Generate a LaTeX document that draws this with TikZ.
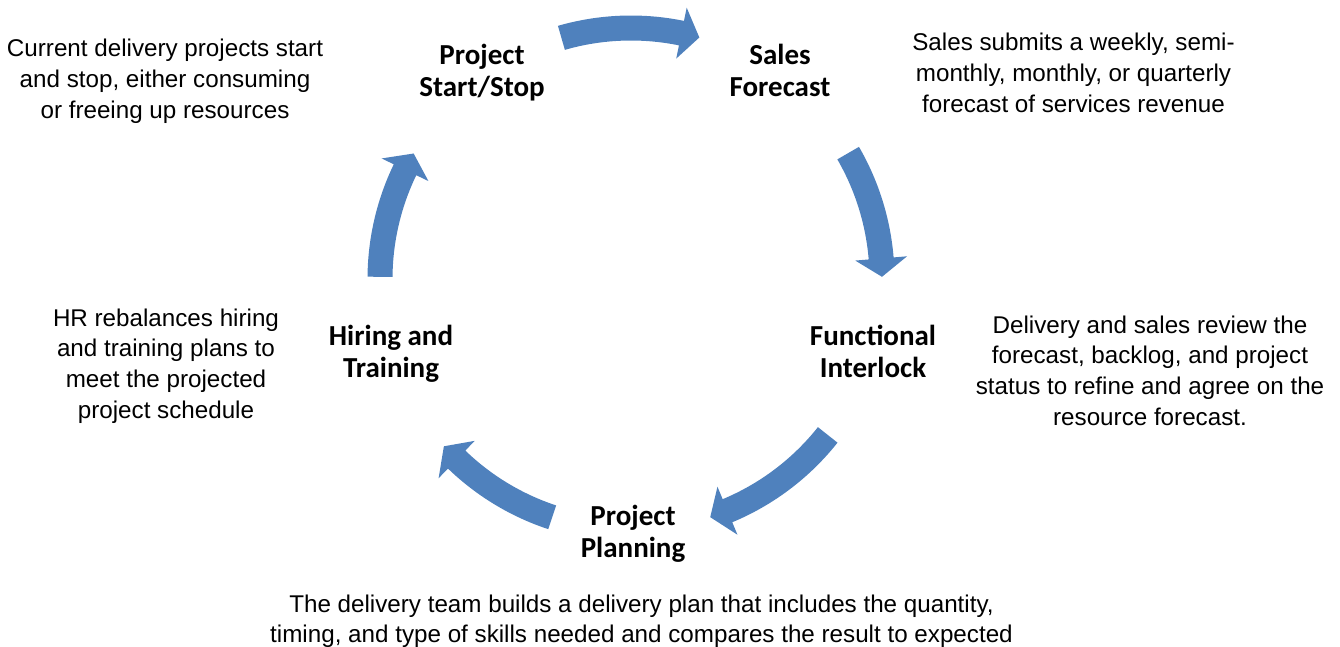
\documentclass[tikz,border=0pt]{standalone}
\usepackage{fontspec}
\setmainfont{Liberation Sans}
\newfontfamily\labelfont{Carlito}

\definecolor{cycleblue}{RGB}{79,129,189}

% curved block arrow on the cycle ring: #1 = tail angle, #2 = tip angle (clockwise)
\newcommand\cycarrow[2]{%
  \pgfmathsetmacro\headang{#2+4.2}%
  \fill[cycleblue] (#1:263.5) arc[start angle=#1, end angle=\headang, radius=263.5]
    -- (\headang:277) -- (#2:251) -- (\headang:225)
    -- (\headang:238.5) arc[start angle=\headang, end angle=#1, radius=238.5] -- cycle;}

% multi-line nodes are placed by the baseline of their last line
\tikzset{
  desc/.style={align=center, inner sep=0pt, anchor=base,
    font=\fontsize{24.2}{30.8}\selectfont},
  steplabel/.style={align=center, inner sep=0pt, anchor=base,
    font=\labelfont\bfseries\fontsize{29}{32}\selectfont}
}

\begin{document}
\begin{tikzpicture}[x=1pt, y=1pt]
\useasboundingbox (0,0) rectangle (1340,646);

% ring of arrows around the cycle centre
\begin{scope}[shift={(631,367)}]
  \cycarrow{106.1}{74.2}
  \cycarrow{30.1}{0.5}
  \cycarrow{-38.4}{-71.6}
  \cycarrow{-108.3}{-138.2}
  \cycarrow{179.5}{150}
\end{scope}

% cycle steps
\node[steplabel] (start) at (482,549) {Project\\Start/Stop};
\node[steplabel] (sales) at (780,549) {Sales\\Forecast};
\node[steplabel] (interlock) at (873,269) {Functional\\Interlock};
\node[steplabel] (planning) at (633,89) {Project\\Planning};
\node[steplabel] (hiring) at (391,269) {Hiring and\\Training};

% step descriptions
\node[desc] (startdesc) at (165,527.4)
  {Current delivery projects start\\and stop, either consuming\\or freeing up resources};
\node[desc] (salesdesc) at (1073.5,533.4)
  {Sales submits a weekly, semi-\\monthly, monthly, or quarterly\\forecast of services revenue};
\node[desc] (interlockdesc) at (1150,220.6)
  {Delivery and sales review the\\forecast, backlog, and project\\status to refine and agree on the\\resource forecast.};
\node[desc] (hiringdesc) at (166,227.6)
  {HR rebalances hiring\\and training plans to\\meet the projected\\project schedule};
\node[desc] (planningdesc) at (641.5,3.2)
  {The delivery team builds a delivery plan that includes the quantity,\\timing, and type of skills needed and compares the result to expected};
\end{tikzpicture}
\end{document}
